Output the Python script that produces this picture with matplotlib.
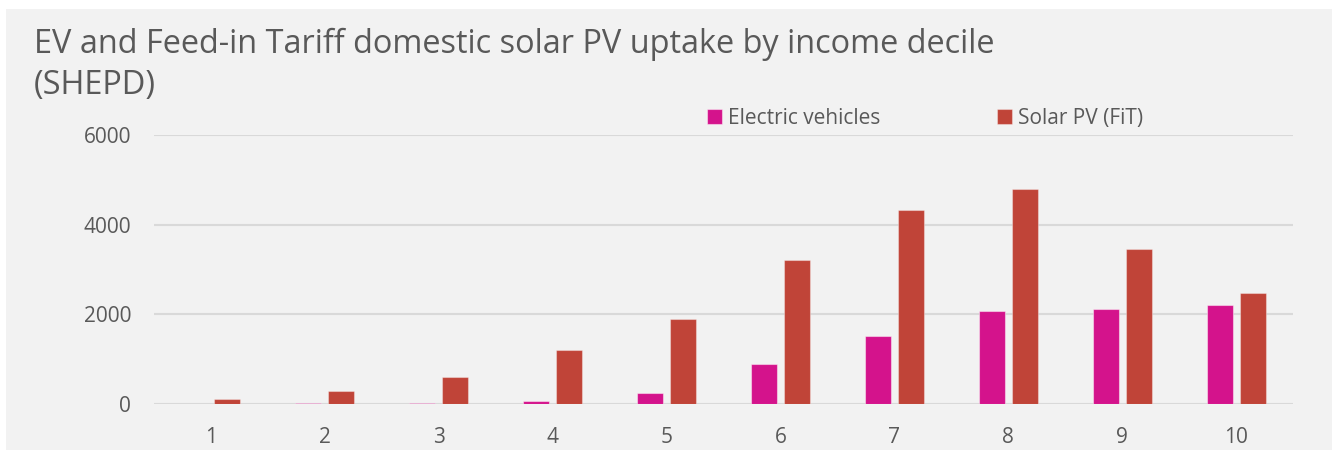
import matplotlib

matplotlib.use("Agg")
import matplotlib.pyplot as plt
import numpy as np
from matplotlib.patches import Rectangle

# income deciles and uptake counts
deciles = ["1", "2", "3", "4", "5", "6", "7", "8", "9", "10"]
ev_counts = [0, 18, 25, 67, 255, 890, 1515, 2078, 2122, 2218]
solar_counts = [120, 298, 601, 1200, 1902, 3216, 4314, 4788, 3465, 2479]
series_names = ["Electric vehicles", "Solar PV (FiT)"]
y_ticks = [0, 2000, 4000, 6000]

EV_COLOUR = "#D4138C"
SOLAR_COLOUR = "#C04438"
PANEL = "#F2F2F2"
TEXT = "#595959"
GRID = "#D9D9D9"
FONT = "Open Sans"

W, H = 1337, 450
fig = plt.figure(figsize=(W / 100, H / 100), dpi=100, facecolor="white")

# grey chart panel with a thin white margin round it (drawn under the axes)
fig.patches.append(Rectangle((6 / W, 0), (1332 - 6) / W, (H - 9) / H,
                             transform=fig.transFigure, facecolor=PANEL,
                             edgecolor="none", zorder=-10))

ax = fig.add_axes([154 / W, (H - 404.3) / H, (1293 - 154) / W,
                   (404.3 - 134.7) / H])
ax.set_facecolor("none")

x = np.arange(len(deciles))
width = 0.228
offset = 0.145
ax.bar(x - offset, ev_counts, width, color=EV_COLOUR,
       edgecolor=(1, 1, 1, 0.45), linewidth=0.8, label=series_names[0],
       zorder=3)
ax.bar(x + offset, solar_counts, width, color=SOLAR_COLOUR,
       edgecolor=(1, 1, 1, 0.35), linewidth=0.8, label=series_names[1],
       zorder=3)

ax.set_xlim(-0.5, len(deciles) - 0.5)
ax.set_ylim(0, 6000)
ax.set_xticks(x, deciles)
ax.set_yticks(y_ticks, [str(v) for v in y_ticks])
ax.grid(axis="y", color=GRID, linewidth=1.5, zorder=1)
ax.tick_params(length=0, colors=TEXT, labelsize=15)
ax.tick_params(axis="x", pad=16)
ax.tick_params(axis="y", pad=16.5)
for lab in ax.get_xticklabels() + ax.get_yticklabels():
    lab.set_family(FONT)
for s in ax.spines.values():
    s.set_visible(False)

leg = ax.legend(loc="lower left", bbox_to_anchor=(545 / 1139, 0.99),
                ncol=2, frameon=False, handlelength=0.7, handleheight=0.7,
                handletextpad=0.3, columnspacing=5.6, borderaxespad=0.0,
                prop={"family": FONT, "size": 15})
for t in leg.get_texts():
    t.set_color(TEXT)

fig.text(34 / W, 1 - 28 / H,
         "EV and Feed-in Tariff domestic solar PV uptake by income decile\n(SHEPD)",
         ha="left", va="top", fontsize=23.4, color=TEXT, family=FONT,
         linespacing=1.3)

fig.savefig("out.png", dpi=100, facecolor="white")
plt.close(fig)
